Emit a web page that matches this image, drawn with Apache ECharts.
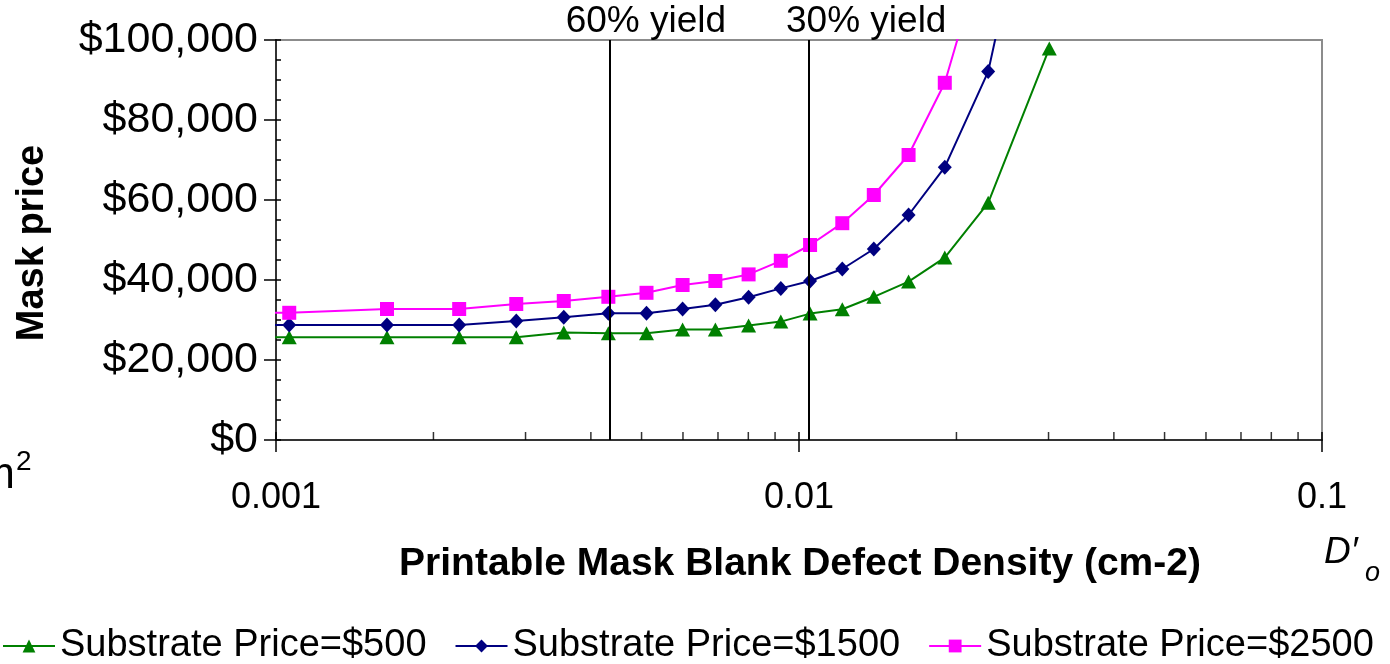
<!DOCTYPE html>
<html>
<head>
<meta charset="utf-8">
<script src="https://cdn.jsdelivr.net/npm/echarts@6/dist/echarts.min.js"></script>
<style>
html,body{margin:0;padding:0;background:#fff;}
#chart{width:1390px;height:664px;}
</style>
</head>
<body>
<div id="chart"></div>
<script>
// ---- data ----
const densities = [0.00097, 0.00106, 0.00163, 0.00224, 0.00288, 0.00355, 0.00432, 0.00511, 0.00599, 0.00692, 0.00801, 0.00923, 0.0105, 0.0121, 0.0139, 0.0162, 0.0190, 0.0230, 0.0301];
const price500  = [25700, 25700, 25700, 25700, 25700, 26900, 26700, 26700, 27600, 27600, 28600, 29600, 31600, 32700, 35800, 39600, 45600, 59300, 97900];
const price1500 = [28750, 28750, 28750, 28750, 29750, 30700, 31700, 31700, 32750, 33800, 35700, 37900, 39750, 42750, 47750, 56250, 68200, 92100, 162000];
const price2500 = [31800, 31800, 32750, 32750, 34000, 34750, 35800, 36800, 38750, 39750, 41400, 44800, 48750, 54200, 61250, 71250, 89300, 126500, null];
const seriesNames = ['Substrate Price=$500', 'Substrate Price=$1500', 'Substrate Price=$2500'];
const yieldLines = [0.00435, 0.01046];
const yieldLabels = ['60% yield', '30% yield'];
const xTickLabels = ['0.001', '0.01', '0.1'];
const yTickValues = [0, 20000, 40000, 60000, 80000, 100000];
const yTickLabels = ['$0', '$20,000', '$40,000', '$60,000', '$80,000', '$100,000'];
const minorTickValues = [0.002, 0.003, 0.004, 0.005, 0.006, 0.007, 0.008, 0.009, 0.02, 0.03, 0.04, 0.05, 0.06, 0.07, 0.08, 0.09];

const FONT = 'Liberation Sans';

function toData(vals) {
  const out = [];
  densities.forEach((x, i) => {
    if (vals[i] == null) return;
    if (i === 0) out.push({ value: [x, vals[i]], symbol: 'none' });
    else out.push([x, vals[i]]);
  });
  return out;
}

const chart = echarts.init(document.getElementById('chart'));
const option = {
  animation: false,
  backgroundColor: '#fff',
  textStyle: { fontFamily: FONT },
  grid: {
    left: 276, right: 68, top: 40, bottom: 224,
    show: true, borderColor: '#8c8c8c', borderWidth: 2, backgroundColor: 'transparent'
  },
  legend: {
    data: seriesNames,
    left: 0, top: 622, padding: [5, 2],
    itemGap: 28, itemWidth: 52, itemHeight: 16,
    textStyle: { fontFamily: FONT, fontSize: 38, color: '#000' }
  },
  xAxis: [
    {
      type: 'log', logBase: 10, min: 0.001, max: 0.1,
      axisLine: { show: true, lineStyle: { color: '#333', width: 2 } },
      axisTick: { show: true, inside: false, length: 12, lineStyle: { color: '#000', width: 1.5 } },
      splitLine: { show: false },
      axisLabel: {
        margin: 40, fontSize: 36, color: '#000', fontFamily: FONT,
        formatter: v => xTickLabels[Math.round(Math.log10(v)) + 3]
      }
    },
    {
      type: 'log', logBase: 10, min: 0.001, max: 0.1, position: 'bottom',
      axisLine: { show: false },
      axisTick: { show: true, inside: true, length: 8, lineStyle: { color: '#000', width: 1.5 } },
      axisLabel: { show: false },
      splitLine: { show: false }
    }
  ],
  yAxis: [
    {
      type: 'value', min: 0, max: 100000, interval: 20000,
      axisLine: { show: true, lineStyle: { color: '#333', width: 2 } },
      axisTick: { show: true, inside: false, length: 12, lineStyle: { color: '#000', width: 1.5 } },
      splitLine: { show: false },
      axisLabel: {
        margin: 18, fontSize: 43, color: '#000', fontFamily: FONT,
        formatter: v => yTickLabels[yTickValues.indexOf(v)]
      }
    },
    {
      type: 'value', min: 0, max: 100000, interval: 20000, position: 'left',
      axisLine: { show: false },
      axisTick: { show: true, inside: true, length: 5, lineStyle: { color: '#000', width: 1.5 } },
      minorTick: { show: true, splitNumber: 4, length: 5, lineStyle: { color: '#000', width: 1.5 } },
      axisLabel: { show: false },
      splitLine: { show: false }
    }
  ],
  series: [
    {
      name: seriesNames[0], type: 'line', data: toData(price500),
      symbol: 'triangle', symbolSize: [15, 14],
      lineStyle: { color: '#008000', width: 2 },
      itemStyle: { color: '#008000' },
      clip: true, z: 3,
      markLine: {
        silent: true, symbol: 'none', animation: false, precision: 6,
        lineStyle: { color: '#000', width: 2, type: 'solid' },
        label: { show: true, position: 'end', distance: 0, fontSize: 37, color: '#000', fontFamily: FONT },
        data: [
          { xAxis: yieldLines[0], label: { formatter: yieldLabels[0], offset: [36, 0] } },
          { xAxis: yieldLines[1], label: { formatter: yieldLabels[1], offset: [57, 0] } }
        ]
      }
    },
    {
      name: seriesNames[1], type: 'line', data: toData(price1500),
      symbol: 'diamond', symbolSize: [14, 15],
      lineStyle: { color: '#000080', width: 2 },
      itemStyle: { color: '#000080' },
      clip: true, z: 3
    },
    {
      name: seriesNames[2], type: 'line', data: toData(price2500),
      symbol: 'rect', symbolSize: 14,
      lineStyle: { color: '#ff00ff', width: 2 },
      itemStyle: { color: '#ff00ff' },
      clip: true, z: 3
    },
    {
      name: 'minorTicks', type: 'scatter', silent: true, clip: false,
      data: minorTickValues.map(v => [v, 0]),
      symbol: 'rect', symbolSize: [1.5, 8], symbolOffset: [0, -4],
      itemStyle: { color: '#000' }, z: 4
    }
  ],
  graphic: [
    {
      type: 'text', x: 33, y: 243, rotation: Math.PI / 2,
      style: { text: 'Mask price', font: 'bold 38px "Liberation Sans"', fill: '#000', textAlign: 'center', textVerticalAlign: 'middle' }
    },
    {
      type: 'text', x: 800, y: 564,
      style: { text: 'Printable Mask Blank Defect Density (cm-2)', font: 'bold 39px "Liberation Sans"', fill: '#000', textAlign: 'center', textVerticalAlign: 'middle' }
    },
    {
      type: 'text', x: 15, y: 476,
      style: { text: 'cm', font: '44px "Liberation Sans"', fill: '#000', textAlign: 'right', textVerticalAlign: 'middle' }
    },
    {
      type: 'text', x: 16, y: 462,
      style: { text: '2', font: '28px "Liberation Sans"', fill: '#000', textAlign: 'left', textVerticalAlign: 'middle' }
    },
    {
      type: 'text', x: 1324, y: 553,
      style: { text: 'D\u2032', font: 'italic 37px "Liberation Sans"', fill: '#000', textAlign: 'left', textVerticalAlign: 'middle' }
    },
    {
      type: 'text', x: 1365, y: 573,
      style: { text: 'o', font: 'italic 27px "Liberation Sans"', fill: '#000', textAlign: 'left', textVerticalAlign: 'middle' }
    }
  ]
};
chart.setOption(option);
</script>
</body>
</html>
